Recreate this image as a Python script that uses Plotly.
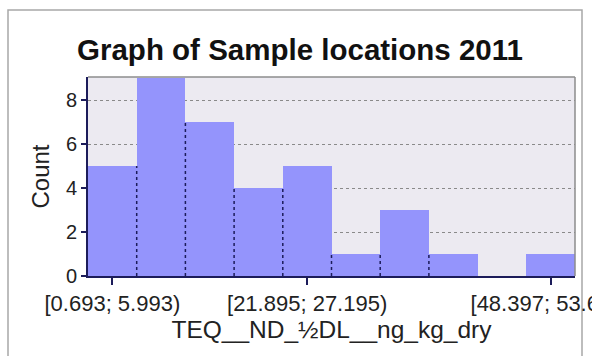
import plotly.graph_objects as go

# ---- data ----
bin_edges = [0.693, 5.993, 11.294, 16.594, 21.895, 27.195, 32.496, 37.796, 43.097, 48.397, 53.698]
counts = [5, 9, 7, 4, 5, 1, 3, 1, 0, 1]
bin_labels = ["[%.3f; %.3f)" % (bin_edges[i], bin_edges[i + 1]) for i in range(len(counts))]
shown_ticks = [0, 4, 9]
title_text = "Graph of Sample locations 2011"
x_title = "TEQ__ND_½DL__ng_kg_dry"
y_title = "Count"
y_ticks = [0, 2, 4, 6, 8]

# ---- layout geometry (pixels) ----
W, H = 592, 356
L, R, T, B = 88, 575, 77, 276
navy = "#1c1c5a"
font = "Liberation Sans, Arial, sans-serif"

idx = list(range(len(counts)))

fig = go.Figure()
fig.add_trace(go.Bar(
    x=idx, y=counts, width=1,
    marker=dict(color="rgb(148,148,252)", line=dict(width=0)),
    hoverinfo="skip", showlegend=False,
))

# dotted separators between adjacent bars (height = lower neighbour)
sx, sy = [], []
for i in range(1, len(counts)):
    h = min(counts[i - 1], counts[i])
    if h > 0:
        sx += [i - 0.5, i - 0.5, None]
        sy += [0, h, None]
fig.add_trace(go.Scatter(
    x=sx, y=sy, mode="lines",
    line=dict(color=navy, width=1.5, dash="dot"),
    hoverinfo="skip", showlegend=False,
))

pw, ph = R - L, B - T
def px_x(p):
    return (p - L) / pw
def px_y(p):
    return (B - p) / ph

shapes = [
    # outer frame
    dict(type="rect", xref="paper", yref="paper",
         x0=px_x(8), x1=px_x(582), y0=px_y(370), y1=px_y(10),
         line=dict(color="#a8a8a8", width=1.5), layer="below"),
    # top & right border of plot area
    dict(type="line", xref="paper", yref="paper", x0=0, x1=1, y0=1, y1=1,
         line=dict(color="#8c8c8c", width=1.5), layer="above"),
    dict(type="line", xref="paper", yref="paper", x0=1, x1=1, y0=0, y1=1,
         line=dict(color="#8c8c8c", width=1.5), layer="above"),
]

fig.update_layout(
    width=W, height=H,
    margin=dict(l=L, r=W - R, t=T, b=H - B, autoexpand=False),
    paper_bgcolor="white",
    plot_bgcolor="#eceaf1",
    bargap=0,
    font=dict(family=font, color="#222222"),
    title=dict(text="<b>%s</b>" % title_text, font=dict(size=29.5, color="#111111", family=font),
               xref="container", yref="container", x=300 / W, y=1 - 50 / H,
               xanchor="center", yanchor="middle"),
    shapes=shapes,
    xaxis=dict(
        range=[-0.5, len(counts) - 0.5],
        automargin=False,
        tickmode="array", tickvals=shown_ticks,
        ticktext=[bin_labels[i] for i in shown_ticks],
        ticks="outside", ticklen=7, tickwidth=1.5, tickcolor=navy,
        showline=True, linecolor=navy, linewidth=2,
        showgrid=False, zeroline=False,
        ticklabeloverflow="allow",
        tickfont=dict(size=22, color="#222222"),
        title=dict(text=x_title, font=dict(size=24.5, color="#222222"), standoff=5),
    ),
    yaxis=dict(
        range=[0, 9.05],
        automargin=False,
        tickmode="array", tickvals=y_ticks,
        ticks="outside", ticklen=5, tickwidth=1.5, tickcolor=navy,
        showline=True, linecolor=navy, linewidth=2,
        showgrid=True, gridcolor="#8a8a8a", griddash="dot", gridwidth=1,
        zeroline=False,
        tickfont=dict(size=20, color="#222222"),
        title=dict(text=y_title, font=dict(size=24, color="#222222"), standoff=9),
    ),
)

fig.write_html("out.html")
